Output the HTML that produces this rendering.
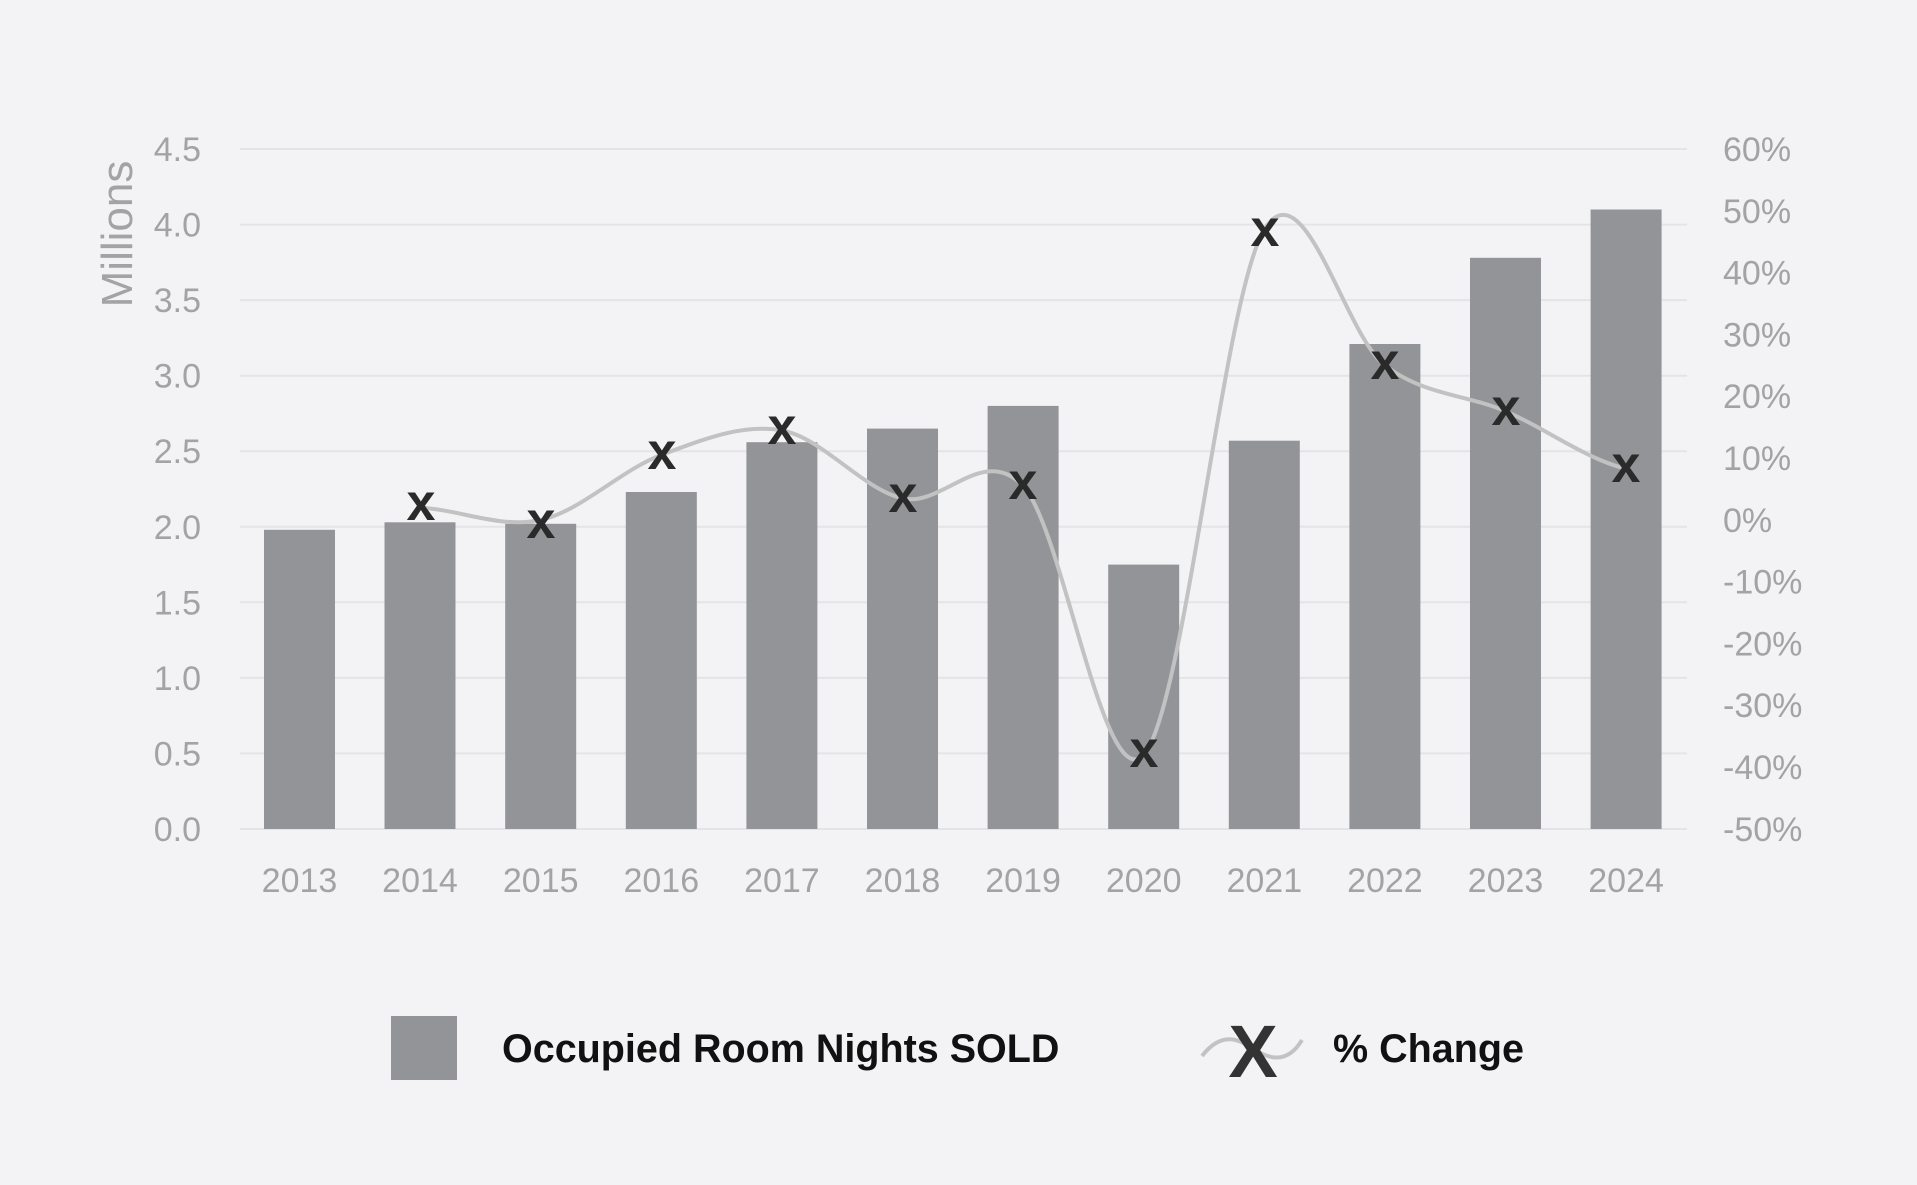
<!DOCTYPE html>
<html><head><meta charset="utf-8"><style>
html,body{margin:0;padding:0;background:#f3f3f5;}
svg text{font-family:"Liberation Sans",sans-serif;}
</style></head><body>
<svg width="1917" height="1180" viewBox="0 0 1917 1180" xmlns="http://www.w3.org/2000/svg">
<rect width="1917" height="1180" fill="#f3f3f5"/>
<g stroke="#e4e4e6" stroke-width="2">
<line x1="240" x2="1687" y1="149" y2="149"/>
<line x1="240" x2="1687" y1="224.6" y2="224.6"/>
<line x1="240" x2="1687" y1="300.1" y2="300.1"/>
<line x1="240" x2="1687" y1="375.7" y2="375.7"/>
<line x1="240" x2="1687" y1="451.2" y2="451.2"/>
<line x1="240" x2="1687" y1="526.8" y2="526.8"/>
<line x1="240" x2="1687" y1="602.3" y2="602.3"/>
<line x1="240" x2="1687" y1="677.9" y2="677.9"/>
<line x1="240" x2="1687" y1="753.4" y2="753.4"/>
<line x1="240" x2="1687" y1="829" y2="829"/>
</g>
<g fill="#939497">
<rect x="264" y="529.8" width="71" height="299.2"/>
<rect x="384.5" y="522.3" width="71" height="306.7"/>
<rect x="505.2" y="523.8" width="71" height="305.2"/>
<rect x="625.8" y="492" width="71" height="337"/>
<rect x="746.4" y="442.2" width="71" height="386.8"/>
<rect x="867" y="428.6" width="71" height="400.4"/>
<rect x="987.6" y="405.9" width="71" height="423.1"/>
<rect x="1108.2" y="564.6" width="71" height="264.4"/>
<rect x="1228.8" y="440.7" width="71" height="388.3"/>
<rect x="1349.4" y="344" width="71" height="485"/>
<rect x="1470" y="257.8" width="71" height="571.2"/>
<rect x="1590.6" y="209.5" width="71" height="619.5"/>
</g>
<path d="M420,507.6 C460.2,509.7 500.5,528.8 540.7,520 C580.9,511.2 621.1,469.9 661.3,455 C701.5,440.1 741.7,423.2 781.9,430.4 C822.1,437.6 862.3,489.1 902.5,498.4 C942.7,507.7 982.9,443.3 1023.1,486 C1063.3,528.7 1103.5,797.6 1143.7,754.8 C1183.9,712 1224.1,294.4 1264.3,229.5 C1304.5,164.6 1344.7,335.2 1384.9,365.5 C1425.1,395.8 1465.3,394 1505.5,411.2 C1545.7,428.4 1585.9,459.1 1626.1,468.7" fill="none" stroke="#c2c2c2" stroke-width="4"/>
<g font-size="52" font-weight="bold" fill="#2a2a2a" text-anchor="middle">
<text x="421" y="520">x</text>
<text x="541" y="538">x</text>
<text x="662" y="469">x</text>
<text x="782" y="444">x</text>
<text x="903" y="512">x</text>
<text x="1023" y="499">x</text>
<text x="1144" y="767">x</text>
<text x="1265" y="246">x</text>
<text x="1385" y="379">x</text>
<text x="1506" y="425">x</text>
<text x="1626" y="482">x</text>
</g>
<g font-size="34" fill="#a3a3a5" text-anchor="end">
<text x="201" y="161">4.5</text>
<text x="201" y="236.6">4.0</text>
<text x="201" y="312.1">3.5</text>
<text x="201" y="387.7">3.0</text>
<text x="201" y="463.2">2.5</text>
<text x="201" y="538.8">2.0</text>
<text x="201" y="614.3">1.5</text>
<text x="201" y="689.9">1.0</text>
<text x="201" y="765.4">0.5</text>
<text x="201" y="841">0.0</text>
</g>
<g font-size="34" fill="#a3a3a5">
<text x="1723" y="161">60%</text>
<text x="1723" y="222.8">50%</text>
<text x="1723" y="284.6">40%</text>
<text x="1723" y="346.4">30%</text>
<text x="1723" y="408.2">20%</text>
<text x="1723" y="470">10%</text>
<text x="1723" y="531.8">0%</text>
<text x="1723" y="593.6">-10%</text>
<text x="1723" y="655.4">-20%</text>
<text x="1723" y="717.2">-30%</text>
<text x="1723" y="779">-40%</text>
<text x="1723" y="841">-50%</text>
</g>
<g font-size="34" fill="#a3a3a5" text-anchor="middle">
<text x="299.5" y="892">2013</text>
<text x="420" y="892">2014</text>
<text x="540.7" y="892">2015</text>
<text x="661.3" y="892">2016</text>
<text x="781.9" y="892">2017</text>
<text x="902.5" y="892">2018</text>
<text x="1023.1" y="892">2019</text>
<text x="1143.7" y="892">2020</text>
<text x="1264.3" y="892">2021</text>
<text x="1384.9" y="892">2022</text>
<text x="1505.5" y="892">2023</text>
<text x="1626.1" y="892">2024</text>
</g>
<text x="0" y="0" font-size="44" fill="#a3a3a5" text-anchor="middle" transform="translate(132,234) rotate(-90)">Millions</text>
<rect x="391" y="1016" width="66" height="64" fill="#939497"/>
<text x="502" y="1062" font-size="39.5" font-weight="bold" fill="#111">Occupied Room Nights SOLD</text>
<path d="M1202,1056 C1222,1030 1240,1040 1252,1048 C1264,1056 1285,1068 1302,1040" fill="none" stroke="#c2c2c2" stroke-width="4"/>
<text x="1253" y="1077" font-size="74" font-weight="bold" fill="#333" text-anchor="middle">X</text>
<text x="1333" y="1062" font-size="39.5" font-weight="bold" fill="#111">% Change</text>
</svg>
</body></html>
